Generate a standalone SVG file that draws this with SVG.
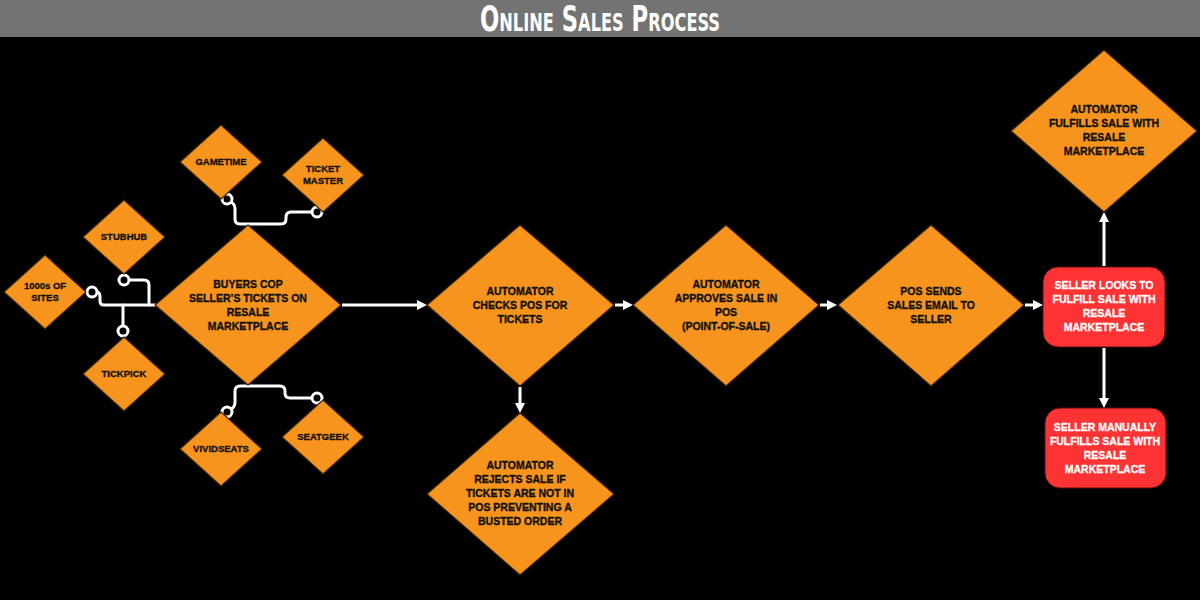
<svg xmlns="http://www.w3.org/2000/svg" width="1200" height="600" viewBox="0 0 1200 600">
<style>
.d{fill:#F7941D;stroke:#3a2508;stroke-width:1.2;stroke-linejoin:round}
.r{fill:#FF3333;stroke:#5a1010;stroke-width:1}
.t{font-family:"Liberation Sans",Arial,sans-serif;font-weight:bold;font-size:10.5px;fill:#111;stroke:#111;stroke-width:0.35;text-anchor:middle}
.s{font-family:"Liberation Sans",Arial,sans-serif;font-weight:bold;font-size:9.5px;fill:#111;stroke:#111;stroke-width:0.3;text-anchor:middle}
.w{font-family:"Liberation Sans",Arial,sans-serif;font-weight:bold;font-size:10.5px;fill:#fff;stroke:#fff;stroke-width:0.3;text-anchor:middle}
.c{fill:none;stroke:#fff;stroke-width:3;stroke-linecap:round;stroke-linejoin:round}
.a{fill:none;stroke:#fff;stroke-width:3}
.dot{fill:#000;stroke:#fff;stroke-width:3}
</style>
<defs>
<marker id="ah" viewBox="0 0 10 10" refX="4" refY="5" markerWidth="10" markerHeight="10" markerUnits="userSpaceOnUse" orient="auto">
<path d="M0,0 L10,5 L0,10 z" fill="#fff"/>
</marker>
</defs>
<rect x="0" y="0" width="1200" height="600" fill="#000"/>
<rect x="0" y="0" width="1200" height="37" fill="#737373"/>
<text x="600" y="31" font-family="'DejaVu Sans Condensed','Liberation Sans',sans-serif" font-weight="bold" font-size="35" font-variant="small-caps" fill="#fff" text-anchor="middle" textLength="240" lengthAdjust="spacingAndGlyphs">Online Sales Process</text>

<g id="connectors">
<path class="c" d="M97,292 Q100,292 100,297 L100,301 Q100,305 104,305 L155,305"/>
<path class="c" d="M129,280 L144,280 Q149,280 149,285 L149,305"/>
<path class="c" d="M123,305 L123,326"/>
<path class="c" d="M231,202 Q235,204 235,209 L235,219 Q235,224 240,224 L281,224 Q286,224 286,219 L286,217 Q286,212 291,212 L312,212"/>
<path class="c" d="M231,409 Q235,407 235,402 L235,391 Q235,386 240,386 L280,386 Q285,386 285,391 L285,393 Q285,398 290,398 L312,398"/>
<circle class="dot" cx="92" cy="292" r="5"/>
<circle class="dot" cx="124" cy="280" r="5"/>
<circle class="dot" cx="123" cy="331" r="5"/>
<circle class="dot" cx="227" cy="199" r="5"/>
<circle class="dot" cx="317" cy="212" r="5"/>
<circle class="dot" cx="227" cy="412" r="5"/>
<circle class="dot" cx="317" cy="398" r="5"/>
<line class="a" x1="342" y1="305" x2="421" y2="305" marker-end="url(#ah)"/>
<line class="a" x1="615" y1="305" x2="627" y2="305" marker-end="url(#ah)"/>
<line class="a" x1="820" y1="305" x2="831" y2="305" marker-end="url(#ah)"/>
<line class="a" x1="1025" y1="305" x2="1037" y2="305" marker-end="url(#ah)"/>
<line class="a" x1="520" y1="387" x2="520" y2="407" marker-end="url(#ah)"/>
<line class="a" x1="1104" y1="266" x2="1104" y2="218" marker-end="url(#ah)"/>
<line class="a" x1="1104" y1="348" x2="1104" y2="402" marker-end="url(#ah)"/>
</g>

<g id="gametime"><path class="d" d="M221,125 L262,162 L221,199 L180,162 Z"/><text class="s" x="221" y="165">GAMETIME</text></g>
<g id="ticketmaster"><path class="d" d="M323,138 L364,175 L323,212 L282,175 Z"/><text class="s" x="323" y="172">TICKET</text><text class="s" x="323" y="184">MASTER</text></g>
<g id="stubhub"><path class="d" d="M124,200 L165,237 L124,274 L83,237 Z"/><text class="s" x="124" y="240">STUBHUB</text></g>
<g id="sites"><path class="d" d="M45,255 L86,292 L45,329 L4,292 Z"/><text class="s" x="45" y="289">1000s OF</text><text class="s" x="45" y="301">SITES</text></g>
<g id="tickpick"><path class="d" d="M124,337 L165,374 L124,411 L83,374 Z"/><text class="s" x="124" y="377">TICKPICK</text></g>
<g id="vividseats"><path class="d" d="M221,412 L262,449 L221,486 L180,449 Z"/><text class="s" x="221" y="452">VIVIDSEATS</text></g>
<g id="seatgeek"><path class="d" d="M323,400 L364,437 L323,474 L282,437 Z"/><text class="s" x="323" y="440">SEATGEEK</text></g>

<g id="buyers"><path class="d" d="M248,225 L341,305 L248,385 L155,305 Z"/>
<text class="t" x="248" y="288">BUYERS COP</text><text class="t" x="248" y="302">SELLER’S TICKETS ON</text><text class="t" x="248" y="316">RESALE</text><text class="t" x="248" y="330">MARKETPLACE</text></g>

<g id="checks"><path class="d" d="M520,225 L614,305 L520,386 L427,305 Z"/>
<text class="t" x="520" y="295">AUTOMATOR</text><text class="t" x="520" y="309">CHECKS POS FOR</text><text class="t" x="520" y="323">TICKETS</text></g>

<g id="rejects"><path class="d" d="M520,413 L614,494 L520,575 L427,494 Z"/>
<text class="t" x="520" y="469">AUTOMATOR</text><text class="t" x="520" y="483">REJECTS SALE IF</text><text class="t" x="520" y="497">TICKETS ARE NOT IN</text><text class="t" x="520" y="511">POS PREVENTING A</text><text class="t" x="520" y="525">BUSTED ORDER</text></g>

<g id="approves"><path class="d" d="M726,225 L819,305 L726,386 L633,305 Z"/>
<text class="t" x="726" y="288">AUTOMATOR</text><text class="t" x="726" y="302">APPROVES SALE IN</text><text class="t" x="726" y="316">POS</text><text class="t" x="726" y="330">(POINT-OF-SALE)</text></g>

<g id="possends"><path class="d" d="M931,225 L1024,305 L931,386 L838,305 Z"/>
<text class="t" x="931" y="295">POS SENDS</text><text class="t" x="931" y="309">SALES EMAIL TO</text><text class="t" x="931" y="323">SELLER</text></g>

<g id="fulfills"><path class="d" d="M1104,50 L1197,131 L1104,212 L1011,131 Z"/>
<text class="t" x="1104" y="113">AUTOMATOR</text><text class="t" x="1104" y="127">FULFILLS SALE WITH</text><text class="t" x="1104" y="141">RESALE</text><text class="t" x="1104" y="155">MARKETPLACE</text></g>

<g id="sellerlooks"><rect class="r" x="1043" y="267" width="122" height="80" rx="15"/>
<text class="w" x="1104" y="289">SELLER LOOKS TO</text><text class="w" x="1104" y="303">FULFILL SALE WITH</text><text class="w" x="1104" y="317">RESALE</text><text class="w" x="1104" y="331">MARKETPLACE</text></g>

<g id="sellermanual"><rect class="r" x="1045" y="408" width="121" height="80" rx="15"/>
<text class="w" x="1105" y="431">SELLER MANUALLY</text><text class="w" x="1105" y="445">FULFILLS SALE WITH</text><text class="w" x="1105" y="459">RESALE</text><text class="w" x="1105" y="473">MARKETPLACE</text></g>
</svg>
